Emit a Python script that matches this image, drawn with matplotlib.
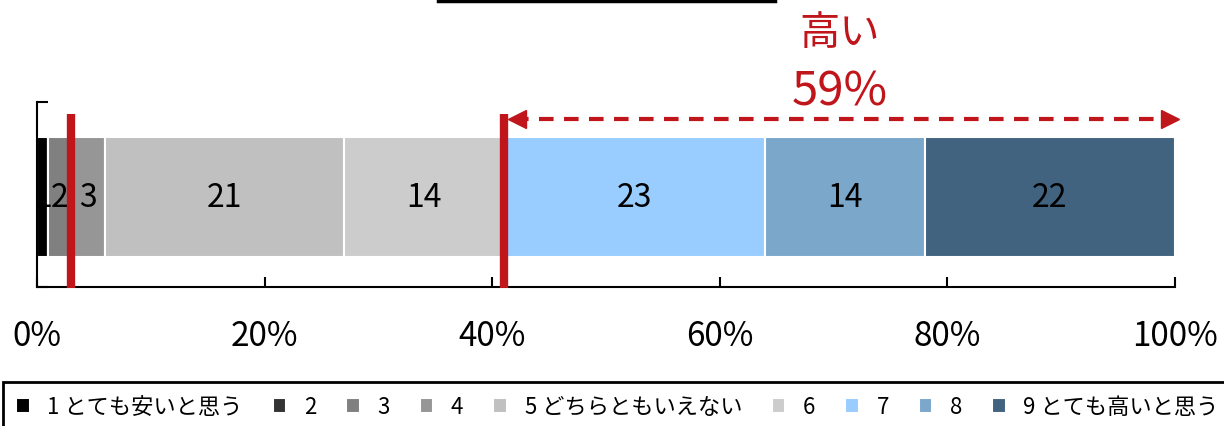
import matplotlib
matplotlib.use("Agg")
import matplotlib.pyplot as plt
from matplotlib.lines import Line2D

plt.rcParams['font.family'] = ['Noto Sans CJK JP', 'DejaVu Sans']

# answer shares (%), scale 1 (very cheap) .. 9 (very expensive)
categories = ['1 とても安いと思う', '2', '3', '4', '5 どちらともいえない',
              '6', '7', '8', '9 とても高いと思う']
shares = [1, 0, 2, 3, 21, 14, 23, 14, 22]
colors = ['#000000', '#333333', '#808080', '#969696', '#C0C0C0',
          '#CCCCCC', '#99CCFF', '#7BA7CB', '#41637F']
xticks = [0, 20, 40, 60, 80, 100]
xtick_labels = ['0%', '20%', '40%', '60%', '80%', '100%']
high_label = '高い'

RED = '#C0161B'

low_cut = sum(shares[:3])
high_share = sum(shares[6:])
high_cut = 100 - high_share

fig = plt.figure(figsize=(12.24, 4.27), dpi=100)
ax = fig.add_axes([37 / 1224, 1 - 288 / 427, 1138 / 1224, 185 / 427])

left = 0
handles = []
for cat, val, col in zip(categories, shares, colors):
    bars = ax.barh(-0.015, val, left=left, height=0.65, color=col,
                   edgecolor='white', linewidth=1.5, label=cat)
    handles.append(bars)
    if val:
        ax.bar_label(bars, labels=[str(val)], label_type='center',
                     fontsize=23, color='black')
    left += val

ax.set_xlim(0, 100)
ax.set_ylim(-0.5, 0.5)
ax.set_xticks(xticks)
ax.set_xticklabels(xtick_labels, fontsize=24)
ax.set_yticks([-0.5, 0.5])
ax.set_yticklabels([])
ax.tick_params(axis='x', direction='in', length=7, width=1.5, pad=22)
ax.tick_params(axis='y', direction='in', length=8, width=1.5)
for side in ['top', 'right']:
    ax.spines[side].set_visible(False)
for side in ['left', 'bottom']:
    ax.spines[side].set_linewidth(1.5)

# red boundary markers
ax.plot([low_cut, low_cut], [-0.505, 0.435], color=RED, lw=6,
        solid_capstyle='butt', clip_on=False, zorder=5)
ax.plot([high_cut, high_cut], [-0.505, 0.435], color=RED, lw=6,
        solid_capstyle='butt', clip_on=False, zorder=5)

# dashed span arrow for the "high" group
ya = 0.408
ax.plot([high_cut + 0.9, 99.9], [ya, ya], color=RED, lw=3,
        dashes=(3.5, 2.5), clip_on=False, zorder=5)
ax.plot([high_cut + 1.2], [ya], marker='<', color=RED, ms=13,
        clip_on=False, zorder=6)
ax.plot([99.6], [ya], marker='>', color=RED, ms=13,
        clip_on=False, zorder=6)

xc = (high_cut + 100) / 2
ax.text(xc, 0.878, high_label, color=RED, fontsize=29,
        ha='center', va='center', clip_on=False)
ax.text(xc, 0.56, f'{high_share}%', color=RED, fontsize=34,
        ha='center', va='center', clip_on=False)

# stray title rule at the top edge
fig.add_artist(Line2D([438 / 1224, 775 / 1224], [1 - 1.5 / 427] * 2,
                      color='black', lw=2.5))

leg = fig.legend(handles=handles, labels=categories, ncol=9,
                 loc='upper left', bbox_to_anchor=(3 / 1224, 1 - 383 / 427),
                 fontsize=16, frameon=True, fancybox=False, framealpha=1,
                 edgecolor='black', borderaxespad=0, borderpad=0.6,
                 handlelength=0.6, handleheight=0.6, handletextpad=0.8,
                 columnspacing=1.35)
leg.get_frame().set_linewidth(2)

fig.savefig('out.png', dpi=100)
